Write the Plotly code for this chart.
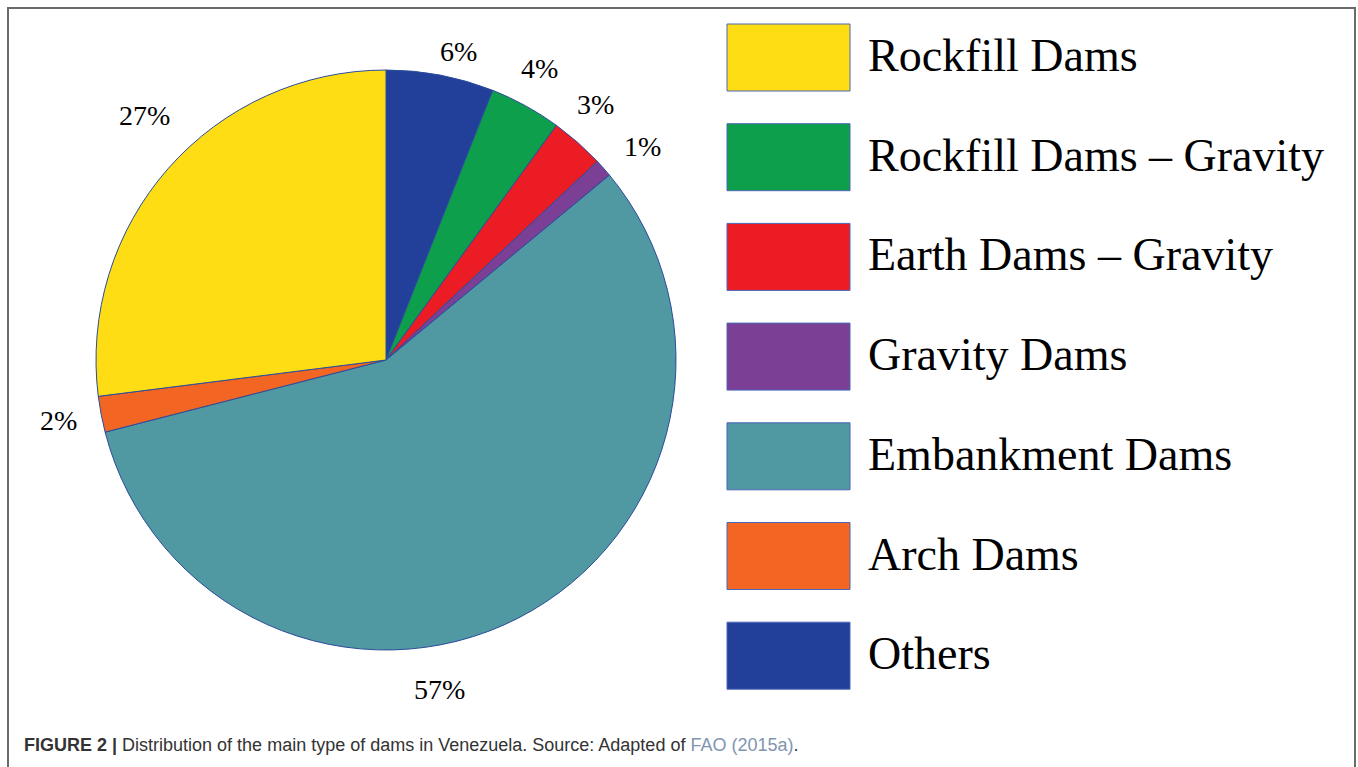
import math
import plotly.graph_objects as go

# ---------------- data ----------------
categories = ["Rockfill Dams", "Rockfill Dams – Gravity", "Earth Dams – Gravity",
              "Gravity Dams", "Embankment Dams", "Arch Dams", "Others"]
shares = [27, 4, 3, 1, 57, 2, 6]
colors = ["#FEDD14", "#0D9F4B", "#EC1C24", "#7B3F96", "#5098A2", "#F26522", "#22409A"]
# clockwise order of the slices starting at 12 o'clock
pie_order = ["Others", "Rockfill Dams – Gravity", "Earth Dams – Gravity",
             "Gravity Dams", "Embankment Dams", "Arch Dams", "Rockfill Dams"]
caption_bold = "FIGURE 2 |"
caption_text = " Distribution of the main type of dams in Venezuela. Source: Adapted of "
caption_link = "FAO (2015a)"

# ---------------- layout constants ----------------
W, H = 1358, 767
CX, CY, R = 386, 360, 290          # pie centre / radius in px
LABEL_R = 330
# (angle nudge in degrees, radius nudge in px) for label placement
LABEL_NUDGE = {"Rockfill Dams": (4, 14), "Others": (2.5, -13),
               "Rockfill Dams – Gravity": (-1, 0), "Earth Dams – Gravity": (-2, 0),
               "Gravity Dams": (1.7, 4), "Embankment Dams": (17.7, 4), "Arch Dams": (0.4, 3)}
LEG_X0, LEG_W, LEG_H = 727, 123, 67
LEG_Y0, LEG_STEP = 57.5, 99.7
LEG_TEXT_X = 866

val = dict(zip(categories, shares))
col = dict(zip(categories, colors))
pie_vals = [val[c] for c in pie_order]
pie_cols = [col[c] for c in pie_order]

def px(x):
    return x / W

def py(y):
    return 1 - y / H

fig = go.Figure()
fig.add_trace(go.Pie(
    labels=pie_order, values=pie_vals, sort=False, direction="clockwise", rotation=0,
    marker=dict(colors=pie_cols, line=dict(color="#2B4C9B", width=1)),
    textinfo="none", hoverinfo="label+percent", showlegend=False,
    domain=dict(x=[px(CX - R), px(CX + R)], y=[py(CY + R), py(CY - R)]),
))

annotations = []
shapes = []

# percentage labels around pie
total = sum(pie_vals)
cum = 0
for c, v in zip(pie_order, pie_vals):
    mid = (cum + v / 2) / total * 360
    cum += v
    da, dr = LABEL_NUDGE.get(c, (0, 0))
    ang = math.radians(mid + da)
    lx = CX + (LABEL_R + dr) * math.sin(ang)
    ly = CY - (LABEL_R + dr) * math.cos(ang)
    annotations.append(dict(
        x=px(lx), y=py(ly), xref="paper", yref="paper",
        text=f"{round(v / total * 100)}%", showarrow=False,
        xanchor="center", yanchor="middle",
        font=dict(family="Liberation Serif, Times New Roman, serif", size=28, color="#000000"),
    ))

# legend (boxes + text)
for i, c in enumerate(categories):
    yc = LEG_Y0 + i * LEG_STEP
    shapes.append(dict(
        type="rect", xref="paper", yref="paper",
        x0=px(LEG_X0), x1=px(LEG_X0 + LEG_W), y0=py(yc - LEG_H / 2), y1=py(yc + LEG_H / 2),
        fillcolor=col[c], line=dict(color="#4A66B8", width=1),
    ))
    annotations.append(dict(
        x=px(LEG_TEXT_X), y=py(yc - 2), xref="paper", yref="paper",
        text=c, showarrow=False, xanchor="left", yanchor="middle",
        font=dict(family="Liberation Serif, Times New Roman, serif", size=46, color="#000000"),
    ))

# frame
shapes.append(dict(type="path", xref="paper", yref="paper",
                   path=f"M {px(8)},{py(767)} L {px(8)},{py(8)} L {px(1355)},{py(8)} L {px(1355)},{py(767)}",
                   line=dict(color="#6A6A6A", width=2)))

# caption
annotations.append(dict(
    x=px(22), y=py(745), xref="paper", yref="paper", showarrow=False,
    xanchor="left", yanchor="middle",
    text=f"<b>{caption_bold}</b>{caption_text}<span style='color:#7F95B0'>{caption_link}</span>.",
    font=dict(family="Liberation Sans, Arial, sans-serif", size=18, color="#333333"),
))

fig.update_layout(
    width=W, height=H, margin=dict(l=0, r=0, t=0, b=0),
    paper_bgcolor="white", plot_bgcolor="white",
    annotations=annotations, shapes=shapes, showlegend=False,
)
fig.write_html("out.html")
